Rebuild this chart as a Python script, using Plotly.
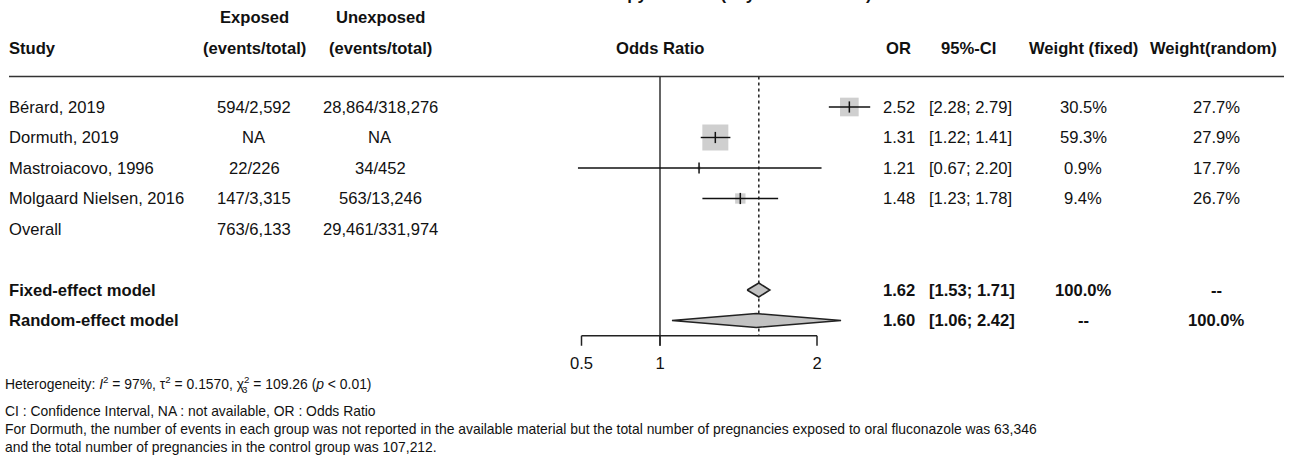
import math
import plotly.graph_objects as go

# ---------------- data ----------------
title = "Oral fluconazole therapy and risk (any malformation)"
studies = ["Bérard, 2019", "Dormuth, 2019", "Mastroiacovo, 1996", "Molgaard Nielsen, 2016"]
exposed = ["594/2,592", "NA", "22/226", "147/3,315"]
unexposed = ["28,864/318,276", "NA", "34/452", "563/13,246"]
odds_ratio = [2.52, 1.31, 1.21, 1.48]
ci_low = [2.28, 1.22, 0.67, 1.23]
ci_high = [2.79, 1.41, 2.20, 1.78]
weight_fixed = [30.5, 59.3, 0.9, 9.4]
weight_random = [27.7, 27.9, 17.7, 26.7]

overall_label = "Overall"
overall_exposed = "763/6,133"
overall_unexposed = "29,461/331,974"

model_labels = ["Fixed-effect model", "Random-effect model"]
model_or = [1.62, 1.60]
model_low = [1.53, 1.06]
model_high = [1.71, 2.42]
model_w_fixed = ["100.0%", "--"]
model_w_random = ["--", "100.0%"]

axis_ticks = [0.5, 1, 2]
axis_tick_labels = ["0.5", "1", "2"]

heterogeneity = ("Heterogeneity: <i>I</i><sup>2</sup> = 97%, τ<sup>2</sup> = 0.1570, "
                 "χ<sup>2</sup> = 109.26 (<i>p</i> &lt; 0.01)")
chi_df = "3"
footnotes = [
    "CI : Confidence Interval, NA : not available, OR : Odds Ratio",
    "For Dormuth, the number of events in each group was not reported in the available material "
    "but the total number of pregnancies exposed to oral fluconazole was 63,346",
    "and the total number of pregnancies in the control group was 107,212.",
]

# ---------------- layout geometry ----------------
W, H = 1293, 463
X_ONE = 660.0        # pixel of OR = 1
PX_LOG2 = 142.0      # pixels per doubling for the study marks
AX_SCALE = 157.0     # pixels per unit of the printed bottom axis
ROW0, ROW_H = 107.0, 30.5
FONT = "Liberation Sans, Arial, Helvetica, sans-serif"
BODY = 16.6
NOTE = 13.9


def px_log10(p):
    return (p - X_ONE) / PX_LOG2 * math.log10(2)


def px_axis(p):
    return 1 + (p - X_ONE) / AX_SCALE


def prow(py):
    return (py - ROW0) / ROW_H


def px(xp):
    return xp / W


fig = go.Figure()

rows = list(range(len(studies)))
overall_row = len(studies)
model_rows = [overall_row + 2, overall_row + 3]
axis_row = model_rows[-1] + 0.5
top_row = -1

# reference lines
fig.add_trace(go.Scatter(x=[1, 1], y=[top_row, axis_row + 10 / ROW_H], mode="lines",
                         line=dict(color="#111", width=1.3), hoverinfo="skip"))
fig.add_trace(go.Scatter(x=[model_or[0], model_or[0]], y=[top_row, axis_row], mode="lines",
                         line=dict(color="#111", width=1.4, dash="3px,3px"), hoverinfo="skip"))

# study boxes (area ~ fixed weight)
max_w = max(weight_fixed)
sizes = [26 * math.sqrt(w / max_w) for w in weight_fixed]
fig.add_trace(go.Scatter(x=odds_ratio, y=rows, mode="markers",
                         marker=dict(symbol="square", size=sizes, color="#bababa",
                                     line=dict(width=0)), hoverinfo="skip"))
# CI lines
cx, cy = [], []
for lo, hi, r in zip(ci_low, ci_high, rows):
    cx += [lo, hi, None]
    cy += [r, r, None]
fig.add_trace(go.Scatter(x=cx, y=cy, mode="lines", line=dict(color="#111", width=1.4),
                         hoverinfo="skip"))
# point ticks
fig.add_trace(go.Scatter(x=odds_ratio, y=rows, mode="markers",
                         marker=dict(symbol="line-ns", size=8,
                                     line=dict(width=1.5, color="#111")),
                         hoverinfo="skip"))

# diamonds
half = 7 / ROW_H
for est, lo, hi, r in zip(model_or, model_low, model_high, model_rows):
    fig.add_trace(go.Scatter(x=[lo, est, hi, est, lo], y=[r, r - half, r, r + half, r],
                             mode="lines", fill="toself", fillcolor="#c2c2c2",
                             line=dict(color="#222", width=1.5), hoverinfo="skip"))

# printed bottom axis (bracket) on its own scale, as in the source figure
fig.add_trace(go.Scatter(x=[axis_ticks[0], axis_ticks[-1]], y=[axis_row, axis_row], mode="lines",
                         xaxis="x2", line=dict(color="#222", width=1.5), hoverinfo="skip"))
tx, ty = [], []
for t in axis_ticks:
    tx += [t, t, None]
    ty += [axis_row, axis_row + 10 / ROW_H, None]
fig.add_trace(go.Scatter(x=tx, y=ty, mode="lines", xaxis="x2",
                         line=dict(color="#222", width=1.5), hoverinfo="skip"))
fig.add_trace(go.Scatter(x=axis_ticks, y=[axis_row + 29 / ROW_H] * len(axis_ticks),
                         mode="text", text=axis_tick_labels, xaxis="x2",
                         textfont=dict(family=FONT, size=BODY, color="#111"),
                         hoverinfo="skip"))

annotations = []


def txt(x, y, s, anchor="left", bold=False, size=BODY, yref="y", yanchor="middle"):
    if bold:
        s = "<b>" + s + "</b>"
    annotations.append(dict(x=x, y=y, xref="paper", yref=yref, text=s, showarrow=False,
                            xanchor=anchor, yanchor=yanchor,
                            font=dict(family=FONT, size=size, color="#111")))


# title, cut off by the top edge of the picture (only descenders show)
txt(px(449), 1 - 5.6 / H, title, "left", True, 16.8, "paper", "bottom")

COL_STUDY = px(7)
COL_EXP = px(254)
COL_UNEXP = px(380)
COL_OR = px(917)
COL_CI = px(927)
COL_WF = px(1083)
COL_WR = px(1216)

h1, h2 = prow(17), prow(48)
txt(COL_EXP, h1, "Exposed", "center", True)
txt(COL_UNEXP, h1, "Unexposed", "center", True)
txt(COL_STUDY, h2, "Study", "left", True)
txt(COL_EXP, h2, "(events/total)", "center", True)
txt(COL_UNEXP, h2, "(events/total)", "center", True)
txt(px(X_ONE), h2, "Odds Ratio", "center", True)
txt(px(898), h2, "OR", "center", True)
txt(px(969), h2, "95%-CI", "center", True)
txt(COL_WF, h2, "Weight (fixed)", "center", True)
txt(px(1213), h2, "Weight(random)", "center", True)

for i, r in enumerate(rows):
    txt(COL_STUDY, r, studies[i])
    txt(COL_EXP, r, exposed[i], "center")
    txt(COL_UNEXP, r, unexposed[i], "center")
    txt(COL_OR, r, f"{odds_ratio[i]:.2f}", "right")
    txt(COL_CI, r, f"[{ci_low[i]:.2f}; {ci_high[i]:.2f}]", "left")
    txt(COL_WF, r, f"{weight_fixed[i]:.1f}%", "center")
    txt(COL_WR, r, f"{weight_random[i]:.1f}%", "center")

txt(COL_STUDY, overall_row, overall_label)
txt(COL_EXP, overall_row, overall_exposed, "center")
txt(COL_UNEXP, overall_row, overall_unexposed, "center")

for k, r in enumerate(model_rows):
    txt(COL_STUDY, r, model_labels[k], "left", True)
    txt(COL_OR, r, f"{model_or[k]:.2f}", "right", True)
    txt(COL_CI, r, f"[{model_low[k]:.2f}; {model_high[k]:.2f}]", "left", True)
    txt(COL_WF, r, model_w_fixed[k], "center", True)
    txt(COL_WR, r, model_w_random[k], "center", True)

txt(px(3), 1 - 383 / H, heterogeneity, "left", False, NOTE, "paper")
# chi-square degrees of freedom, stacked under the superscript
txt(px(245), 1 - 389 / H, chi_df, "center", False, NOTE * 0.7, "paper")
for s, yp in zip(footnotes, [411, 429, 447]):
    txt(px(3), 1 - yp / H, s, "left", False, NOTE, "paper")

fig.update_layout(
    width=W, height=H, autosize=False,
    margin=dict(l=0, r=0, t=0, b=0, pad=0, autoexpand=False),
    paper_bgcolor="white", plot_bgcolor="white",
    showlegend=False,
    xaxis=dict(type="log", range=[px_log10(0), px_log10(W)], visible=False,
               domain=[0, 1], fixedrange=True),
    xaxis2=dict(type="linear", range=[px_axis(0), px_axis(W)], visible=False,
                overlaying="x", anchor="y", fixedrange=True),
    yaxis=dict(range=[prow(H), prow(0)], visible=False, domain=[0, 1], fixedrange=True),
    shapes=[dict(type="line", xref="paper", yref="y", x0=px(9), x1=px(1284),
                 y0=top_row, y1=top_row, line=dict(color="#333", width=1.5))],
    annotations=annotations,
)

fig.write_html("out.html", config={"displayModeBar": False},
               post_script="document.body.style.margin='0px';")
